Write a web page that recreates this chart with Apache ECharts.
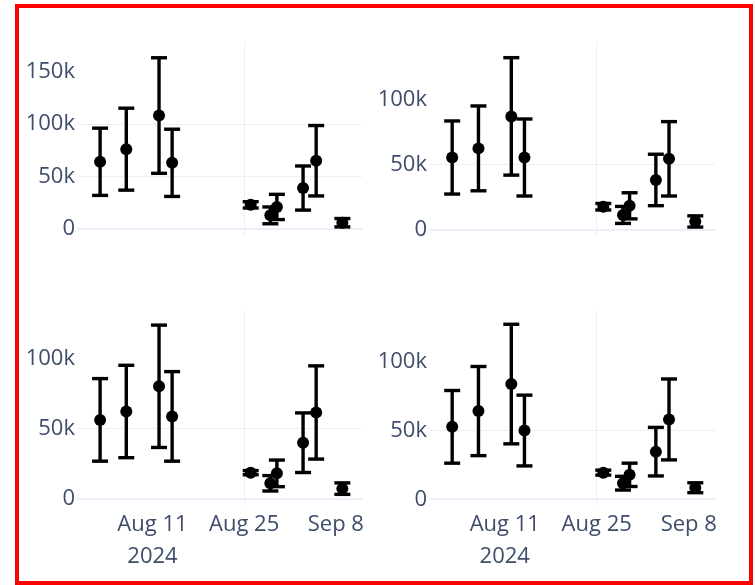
<!DOCTYPE html>
<html>
<head>
<meta charset="utf-8">
<script src="https://cdn.jsdelivr.net/npm/echarts@6/dist/echarts.min.js"></script>
<style>
  html, body { margin: 0; padding: 0; background: #fff; }
  #chart { width: 755px; height: 585px; }
</style>
</head>
<body>
<div id="chart"></div>
<script>
// dates shared by all four panels
var dates = ['2024-08-03', '2024-08-07', '2024-08-12', '2024-08-14', '2024-08-26',
             '2024-08-29', '2024-08-30', '2024-09-03', '2024-09-05', '2024-09-09'];

// mean values and (symmetric) error per panel
var valuesA = [64000, 76000, 108000, 63000, 23000, 13000, 21000, 39000, 65000, 6000];
var errorsA = [32000, 39000, 55000, 32000, 3000, 8000, 12000, 21000, 33500, 4000];

var valuesB = [55500, 62500, 87000, 55500, 17800, 11500, 18500, 38300, 54500, 6500];
var errorsB = [28000, 32500, 45000, 29500, 2500, 6500, 10000, 19700, 28500, 4300];

var valuesC = [56000, 62000, 80000, 58500, 18300, 10700, 17800, 39700, 61300, 6900];
var errorsC = [29500, 33000, 43700, 32000, 1500, 5500, 9500, 21300, 33300, 4100];

var valuesD = [52800, 64300, 84000, 50100, 19400, 11700, 17800, 34700, 58200, 8400];
var errorsD = [26500, 32500, 43600, 25800, 1800, 5000, 8500, 17700, 29500, 3600];

// tick labels
var xTickDates = ['2024-08-11', '2024-08-25', '2024-09-08'];
var xTickLabels = ['Aug 11\n2024', 'Aug 25', 'Sep 8'];
var yTickValues = [0, 50000, 100000, 150000];
var yTickLabels = ['0', '50k', '100k', '150k'];

var GRID_COLOR = '#EBF0F8';
var TEXT_COLOR = '#3e4d6a';
var FONT = '"Open Sans", Verdana, sans-serif';

// date string -> ms (UTC)
function ms(s) {
  var p = s.split('-');
  return Date.UTC(+p[0], +p[1] - 1, +p[2]);
}
var xTickMs = xTickDates.map(ms);
var X_MIN = Date.UTC(2024, 6, 30, 15);
var X_MAX = Date.UTC(2024, 8, 12, 0);

var chart = echarts.init(document.getElementById('chart'));

function fmtX(value) {
  var i = xTickMs.indexOf(value);
  return i >= 0 ? xTickLabels[i] : '';
}
function fmtY(value) {
  var i = yTickValues.indexOf(value);
  return i >= 0 ? yTickLabels[i] : '';
}

function renderErr(params, api) {
  var x = api.value(0);
  var p1 = api.coord([x, api.value(1)]);
  var p2 = api.coord([x, api.value(2)]);
  var w = 8;
  var st = { stroke: '#000', lineWidth: 3.4 };
  return {
    type: 'group',
    children: [
      { type: 'line', shape: { x1: p1[0], y1: p1[1], x2: p2[0], y2: p2[1] }, style: st },
      { type: 'line', shape: { x1: p1[0] - w, y1: p1[1], x2: p1[0] + w, y2: p1[1] }, style: st },
      { type: 'line', shape: { x1: p2[0] - w, y1: p2[1], x2: p2[0] + w, y2: p2[1] }, style: st }
    ]
  };
}

var panels = [
  { vals: valuesA, errs: errorsA, left: 78,  top: 42,  width: 284, ymin: -7600, ymax: 178000, labels: false },
  { vals: valuesB, errs: errorsB, left: 430, top: 42,  width: 285, ymin: -5400, ymax: 144000, labels: false },
  { vals: valuesC, errs: errorsC, left: 78,  top: 310, width: 284, ymin: -4800, ymax: 134500, labels: true },
  { vals: valuesD, errs: errorsD, left: 430, top: 310, width: 285, ymin: -4200, ymax: 138000, labels: true }
];

var grids = [], xAxes = [], yAxes = [], series = [];
panels.forEach(function (p, k) {
  grids.push({ left: p.left, top: p.top, width: p.width, height: 195 });
  xAxes.push({
    type: 'value', gridIndex: k, min: X_MIN, max: X_MAX,
    axisLine: { show: true, onZero: true, lineStyle: { color: GRID_COLOR, width: 2 } },
    axisTick: { show: false, customValues: xTickMs },
    axisLabel: {
      show: p.labels, customValues: xTickMs, formatter: fmtX,
      color: TEXT_COLOR, fontFamily: FONT, fontSize: 22, lineHeight: 32, margin: 4
    },
    splitLine: { show: true, showMinLine: false, showMaxLine: false, lineStyle: { color: GRID_COLOR, width: 1 } }
  });
  yAxes.push({
    type: 'value', gridIndex: k, min: p.ymin, max: p.ymax,
    axisLine: { show: false },
    axisTick: { show: false, customValues: yTickValues },
    axisLabel: {
      customValues: yTickValues, formatter: fmtY,
      color: TEXT_COLOR, fontFamily: FONT, fontSize: 22, margin: 3, padding: [4, 0, 0, 0]
    },
    splitLine: { show: true, showMinLine: false, showMaxLine: false, lineStyle: { color: GRID_COLOR, width: 1 } }
  });
  var errData = [], ptData = [];
  for (var i = 0; i < dates.length; i++) {
    var t = ms(dates[i]);
    errData.push([t, p.vals[i] - p.errs[i], p.vals[i] + p.errs[i]]);
    ptData.push([t, p.vals[i]]);
  }
  series.push({
    type: 'custom', xAxisIndex: k, yAxisIndex: k,
    renderItem: renderErr, encode: { x: 0, y: [1, 2] }, data: errData, z: 2
  });
  series.push({
    type: 'scatter', xAxisIndex: k, yAxisIndex: k,
    symbol: 'circle', symbolSize: 12, itemStyle: { color: '#000', opacity: 1 },
    data: ptData, z: 3
  });
});

chart.setOption({
  animation: false,
  backgroundColor: '#fff',
  grid: grids,
  xAxis: xAxes,
  yAxis: yAxes,
  series: series,
  graphic: [{
    type: 'rect', silent: true, z: 100,
    shape: { x: 17, y: 6, width: 734, height: 577 },
    style: { fill: 'none', stroke: '#ff0000', lineWidth: 4 }
  }]
});
</script>
</body>
</html>
